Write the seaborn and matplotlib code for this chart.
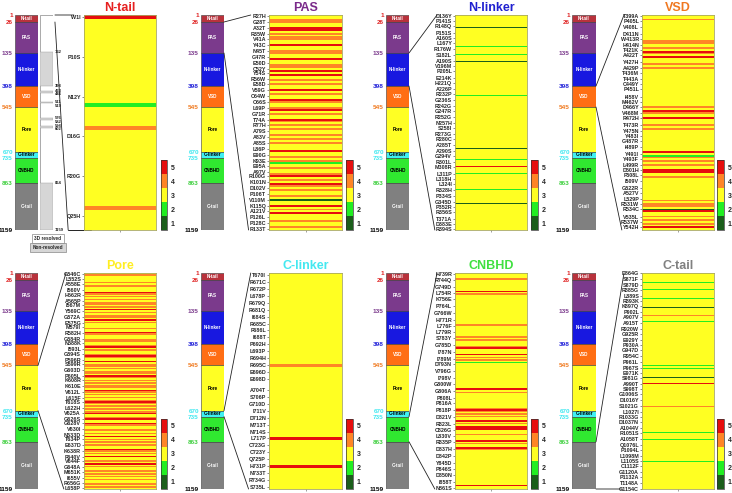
import numpy as np
import pandas as pd
import matplotlib
matplotlib.use('Agg')
import matplotlib.pyplot as plt
import matplotlib.transforms as mtransforms
import seaborn as sns
from matplotlib.colors import ListedColormap
from matplotlib.patches import ConnectionPatch

sns.set_theme(style='white')
plt.rcParams['font.family'] = ['Liberation Sans', 'DejaVu Sans']
plt.rcParams['font.weight'] = 'bold'

# domain bar (same on every panel)
domain_names = ['N-tail', 'PAS', 'N-linker', 'VSD', 'Pore', 'C-linker', 'CNBHD', 'C-tail']
domain_bounds = [1, 26, 135, 398, 545, 670, 735, 863, 1159]
domain_bar_sizes = [7, 31, 33, 21, 45, 6, 25, 47]
domain_colors = ['#b8323c', '#7b3a8c', '#1818e0', '#ff6e14', '#ffff24', '#3ff0f2', '#30e830', '#808080']
domain_text_colors = ['white', 'white', 'white', 'white', 'black', 'black', 'black', 'white']
bound_label_colors = ['#e02424', '#e02424', '#7b3a8c', '#2020d8', '#f07a20', '#40e8f0', '#40e8f0', '#40d040', 'black']
title_colors = ['#e62020', '#7a2a8a', '#2020d0', '#f07820', '#ffee22', '#44e8f0', '#40e040', '#808080']

# structure schematic (first panel)
resolved_ticks = [132, 398, 433, 446, 511, 519, 576, 582, 598, 602, 864, 1159]
unresolved_spans = [(132, 398), (433, 446), (511, 519), (576, 582), (598, 602), (864, 1159)]

# score colours 1..5
score_colors = ['#1b5e1b', '#22ee22', '#ffff22', '#ff8526', '#e60e0e']

# per-domain variants, number of rows and non-3 scores (score -> rows)
ntail_labels = ['W1I', 'P10S', 'N12Y', 'D16G', 'R20G', 'Q25H']
ntail_rows = 54
ntail_last_tick = 50
ntail_bands = {5: [0], 2: [22], 4: [28, 48]}

pas_labels = ['R27H', 'G28T', 'A32T', 'R35W', 'V41A', 'Y43C', 'N45T', 'G47R', 'E50D', 'C52Y',
              'Y54S', 'R56W', 'E58D', 'V59G', 'C64W', 'C66S', 'L69P', 'G71R', 'T74A', 'R77H',
              'A79S', 'A83V', 'A85S', 'L86P', 'E90G', 'K93E', 'E95A', 'A97V', 'R100G', 'K101N',
              'D102V', 'P106T', 'V110M', 'K115Q', 'A121V', 'P126L', 'P128C', 'R133T']
pas_rows = 110
pas_last_tick = 109
pas_bands = {5: [6, 7, 15, 22, 28, 30, 38, 43, 48, 53, 69, 82, 86, 97, 101],
             4: [2, 3, 9, 11, 12, 18, 19, 25, 26, 33, 35, 40, 44, 47, 50, 54, 56, 58, 61, 63, 65,
                 72, 74, 78, 81, 84, 87, 89, 92, 99, 105, 108],
             2: [75], 1: [94]}

nlinker_labels = ['D136Y', 'P141S', 'R148Q', 'P151S', 'A160S', 'L167Y', 'R176W', 'S182L', 'A190S',
                  'V196M', 'P205L', 'E214K', 'H221Q', 'A226P', 'R232P', 'G236S', 'R242G', 'G247R',
                  'R252G', 'N257H', 'S258I', 'R273G', 'R280C', 'A285T', 'A290S', 'G294V', 'R301L',
                  'M308R', 'L311P', 'L318H', 'L324I', 'R328H', 'P334S', 'G345D', 'P352R', 'R356S',
                  'T371A', 'D383E', 'R394S']
nlinker_rows = 200
nlinker_last_tick = 199
nlinker_bands = {1: [11, 43, 124, 175], 2: [29, 36, 74, 134, 147, 162], 5: [140]}

vsd_labels = ['T399A', 'P405L', 'V408L', 'D411N', 'W413R', 'H414N', 'T421K', 'A422T', 'Y427H',
              'A429P', 'T436M', 'T443A', 'C449Y', 'P451L', 'I458V', 'M462V', 'D466Y', 'V468M',
              'R472H', 'T473R', 'Y475N', 'Y483I', 'G487R', 'I489P', 'Y491I', 'Y493F', 'L499R',
              'D501H', 'F508L', 'I509V', 'G522R', 'A527V', 'L529P', 'R531W', 'R534C', 'V535L',
              'R537W', 'Y542H']
vsd_rows = 120
vsd_last_tick = 118
vsd_bands = {4: [2, 14, 15, 18, 21, 27, 29, 51, 54, 61, 63, 79, 81, 83, 90, 103, 105, 106, 112, 114, 116],
             5: [20, 23, 53, 57, 76, 86, 87, 109, 118], 2: [78], 1: [108]}

pore_labels = ['G546C', 'L552S', 'A558E', 'I560V', 'H562R', 'A565P', 'I567M', 'Y569C', 'G572A',
               'E575G', 'M579I', 'R582H', 'G584R', 'N588K', 'I593L', 'G594S', 'P596R', 'S599R',
               'G603D', 'P605L', 'K608R', 'K610E', 'V612L', 'L615F', 'T618S', 'L622H', 'V625A',
               'G626S', 'G628V', 'V630I', 'N633D', 'T634P', 'E637D', 'K638R', 'F640V', 'V644F',
               'G648A', 'M651K', 'I655V', 'R656G', 'L658P']
pore_rows = 150
pore_last_tick = 149
pore_bands = {4: [1, 6, 8, 9, 14, 16, 18, 20, 21, 23, 27, 29, 30, 34, 38, 42, 46, 47, 50, 53, 56, 58,
                  63, 64, 66, 68, 69, 72, 74, 76, 78, 79, 82, 84, 86, 88, 90, 92, 94, 96, 100, 105,
                  108, 109, 111, 115, 117, 119, 123, 125, 130, 134, 137, 139, 141, 143, 146, 148],
              5: [13, 25, 32, 41, 51, 57, 61, 71, 81, 89, 97, 101, 104, 113, 122, 127, 132]}

clinker_labels = ['T670I', 'R671C', 'R672P', 'L678P', 'R679Q', 'R681Q', 'I684S', 'R685C', 'F686L',
                  'I688T', 'P692H', 'L693P', 'R694H', 'R695C', 'E696D', 'E698D', 'A704T', 'S706P',
                  'G710D', 'I711V', 'D712N', 'M713T', 'N714S', 'L717P', 'C723G', 'C723Y', 'Q725P',
                  'H731P', 'N733T', 'R734G', 'S735L']
clinker_rows = 62
clinker_last_tick = 61
clinker_bands = {4: [26], 5: [47, 55]}

cnbhd_labels = ['H739R', 'R744Q', 'G749D', 'L754R', 'K756E', 'P764L', 'G766W', 'H771R', 'L776F',
                'L779R', 'S783Y', 'G785D', 'I787N', 'I789M', 'D793N', 'V796G', 'I798V', 'G800W',
                'G806A', 'P808L', 'P816A', 'P818P', 'D821V', 'R823L', 'C826G', 'L830V', 'R835P',
                'D837H', 'D842P', 'Y845D', 'P846S', 'D850N', 'I858T', 'N861S']
cnbhd_rows = 160
cnbhd_last_tick = 159
cnbhd_bands = {5: [13, 55, 60, 85, 86, 101, 109, 113, 114, 115, 124, 129, 157],
               4: [4, 15, 38, 47, 49, 54, 62, 64, 88, 100, 102, 104, 106, 111, 119, 126, 130],
               2: [66]}

ctail_labels = ['D864G', 'S871F', 'S879D', 'R885G', 'L889S', 'R893K', 'K897Q', 'P902L', 'A907V',
                'A915T', 'R920W', 'G925R', 'E929Y', 'P930A', 'G947D', 'R954C', 'P961L', 'P967S',
                'E971K', 'S981G', 'A990T', 'S998T', 'G1006S', 'D1016Y', 'S1021G', 'L1027I',
                'R1033G', 'D1037N', 'A1044V', 'R1051S', 'A1058T', 'Q1076L', 'P1094L', 'L1098M',
                'L1105S', 'C1112F', 'G1120A', 'P1132A', 'T1148A', 'G1154C']
ctail_rows = 250
ctail_last_tick = 249
ctail_bands = {2: [10, 19, 29, 56, 107, 110, 172, 184, 192, 218], 1: [39, 120], 4: [49, 128, 154], 5: [127]}

panels = [
    (ntail_labels, ntail_rows, ntail_last_tick, ntail_bands),
    (pas_labels, pas_rows, pas_last_tick, pas_bands),
    (nlinker_labels, nlinker_rows, nlinker_last_tick, nlinker_bands),
    (vsd_labels, vsd_rows, vsd_last_tick, vsd_bands),
    (pore_labels, pore_rows, pore_last_tick, pore_bands),
    (clinker_labels, clinker_rows, clinker_last_tick, clinker_bands),
    (cnbhd_labels, cnbhd_rows, cnbhd_last_tick, cnbhd_bands),
    (ctail_labels, ctail_rows, ctail_last_tick, ctail_bands),
]

W, H = 732, 493
fig = plt.figure(figsize=(W / 100, H / 100), dpi=100)


def box(x0, y0, x1, y1):
    # pixel box (top-left origin) -> figure axes
    return fig.add_axes([x0 / W, 1 - y1 / H, (x1 - x0) / W, (y1 - y0) / H])


cmap = ListedColormap(score_colors)
bar_pos = np.concatenate([[0], np.cumsum(domain_bar_sizes)])
bar_starts = bar_pos[:-1]
total = bar_pos[-1]

bar_x = [(15, 38), (201, 224), (386, 409), (572, 596)]
heat_x = [(84, 156), (269, 342), (455, 527), (642, 714)]
cbar_x = [(161, 167), (346, 353), (531, 538), (717, 724)]
rows_y = [(15, 230), (273, 489)]

for i, (labels, n_rows, last_tick, bands) in enumerate(panels):
    r, c = divmod(i, 4)
    y0, y1 = rows_y[r]

    # domain bar
    bax = box(bar_x[c][0], y0, bar_x[c][1], y1)
    bax.bar(0, domain_bar_sizes, bottom=bar_starts, width=1, color=domain_colors,
            edgecolor='#3a3a3a', linewidth=0.4, align='center')
    bax.set_xlim(-0.5, 0.5)
    bax.set_ylim(total, 0)
    for k, name in enumerate(domain_names):
        bax.text(0, bar_starts[k] + domain_bar_sizes[k] / 2, name, ha='center', va='center',
                 fontsize=3.3, color=domain_text_colors[k], fontweight='bold')
    bax.set_xticks([])
    bax.set_yticks(bar_pos, [str(b) for b in domain_bounds])
    bax.tick_params(axis='y', length=0, pad=1.5, labelsize=4.6)
    for t, col in zip(bax.get_yticklabels(), bound_label_colors):
        t.set_color(col)
    for s in bax.spines.values():
        s.set_visible(False)

    # heatmap
    vals = np.full(n_rows, 3.0)
    for score, rws in bands.items():
        vals[rws] = score
    df = pd.DataFrame({'score': vals})
    hax = box(heat_x[c][0], y0, heat_x[c][1], y1)
    cax = box(cbar_x[c][0], y1 - 70, cbar_x[c][1], y1)
    sns.heatmap(df, ax=hax, cbar_ax=cax, cmap=cmap, vmin=0.5, vmax=5.5,
                xticklabels=False, yticklabels=False, cbar_kws={'ticks': [1, 2, 3, 4, 5]})
    ticks = np.round(np.linspace(0, last_tick, len(labels))) + 0.5
    hax.set_yticks(ticks, labels)
    hax.tick_params(axis='y', left=True, length=1.5, width=0.4, pad=0.6, labelsize=3.9, color='#333')
    hax.set_xticks([0.5], [''])
    hax.tick_params(axis='x', bottom=True, length=1.5, width=0.4, color='#555')
    for s in hax.spines.values():
        s.set_visible(True)
        s.set_color('#a8a860')
        s.set_linewidth(0.6)
    hax.set_title(domain_names[i], color=title_colors[i], fontsize=9, fontweight='bold', pad=3)

    cbar = hax.collections[0].colorbar
    cbar.outline.set_linewidth(0.5)
    cbar.outline.set_edgecolor('#333')
    cax.tick_params(length=0, pad=2.5, labelsize=5)

    # connector lines domain -> heatmap
    if i == 0:
        sax = box(40, y0, 53, y1)
        sax.bar(0, total, bottom=0, width=1, color='white', edgecolor='#888', linewidth=0.5)
        for a, b in unresolved_spans:
            pa, pb = np.interp([a, b], domain_bounds, bar_pos)
            sax.bar(0, pb - pa, bottom=pa, width=1, color='#d6d6d6', edgecolor='#999', linewidth=0.3)
        sax.set_xlim(-0.5, 0.5)
        sax.set_ylim(total, 0)
        sax.set_xticks([])
        sax.set_yticks([])
        for s in sax.spines.values():
            s.set_visible(False)
        # residue labels right of the schematic, nudged apart so they don't collide
        label_y = np.interp(resolved_ticks, domain_bounds, bar_pos)
        prev = -10.0
        for t, yv in zip(resolved_ticks, label_y):
            ty = max(yv, prev + 3.4)
            prev = ty
            sax.text(1.12, ty, str(t), transform=mtransforms.blended_transform_factory(sax.transAxes, sax.transData),
                     fontsize=3.0, ha='left', va='center', color='#222')
        src = mtransforms.blended_transform_factory(sax.transAxes, sax.transData)
        ends = [(bar_pos[0], (-0.14, 1)), (bar_pos[1], (-0.22, 0))]
        x_src = 1.15
        hax.plot([-0.22, 0.1], [0, 0], transform=hax.transAxes, color='#222', lw=0.7, clip_on=False)
    else:
        src = bax.transData
        ends = [(bar_pos[i], (-0.25, 1)), (bar_pos[i + 1], (-0.28, 0))]
        x_src = 0.5
    for yv, xyb in ends:
        con = ConnectionPatch(xyA=(x_src, yv), coordsA=src, xyB=xyb, coordsB=hax.transAxes,
                              color='#222', lw=0.6)
        fig.add_artist(con)

# legend for schematic
fig.text(48 / W, 1 - 238.5 / H, '3D resolved', fontsize=3.4, ha='center', va='center',
         bbox=dict(boxstyle='square,pad=0.5', fc='white', ec='#888', lw=0.5))
fig.text(48 / W, 1 - 247.5 / H, 'Non-resolved', fontsize=3.4, ha='center', va='center',
         bbox=dict(boxstyle='square,pad=0.5', fc='#d6d6d6', ec='#888', lw=0.5))

fig.savefig('out.png', dpi=100)
